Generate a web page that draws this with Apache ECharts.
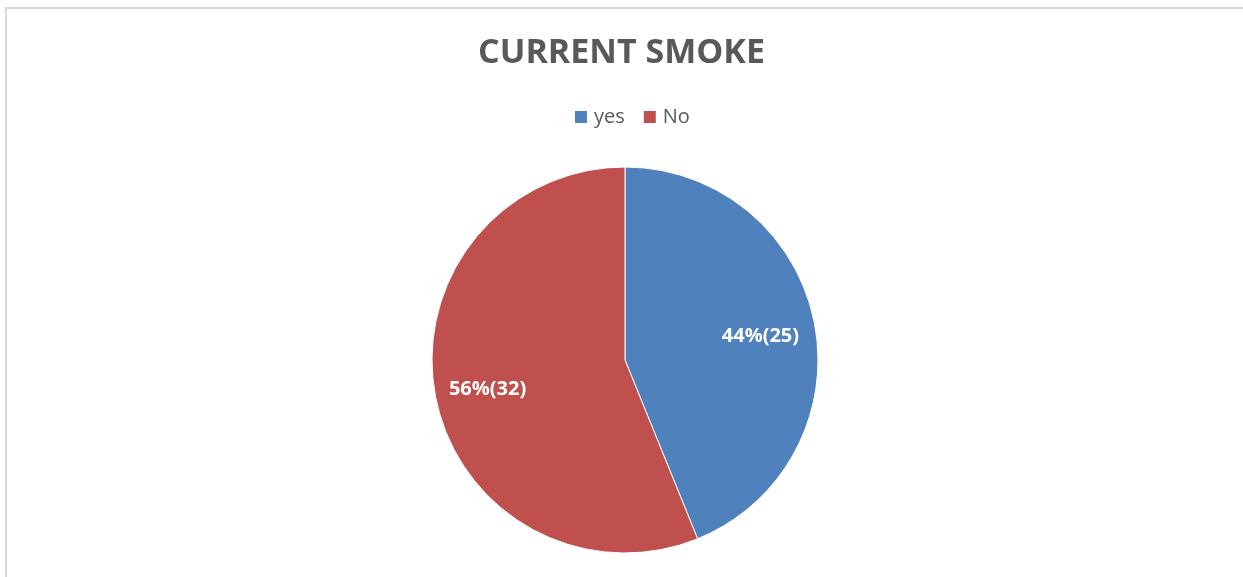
<!DOCTYPE html>
<html>
  <head>
    <meta charset="utf-8" />
    <title>CURRENT SMOKE</title>
    <script src="https://cdn.jsdelivr.net/npm/echarts@6/dist/echarts.min.js"></script>
    <style>
      html, body { margin: 0; padding: 0; background: #fff; overflow: hidden; }
      #frame {
        position: absolute; left: 5px; top: 7px; right: -10px; bottom: -10px;
        border-left: 2px solid #d9d9d9; border-top: 2px solid #d9d9d9;
      }
      #main { position: absolute; left: 0; top: 0; width: 1243px; height: 577px; }
    </style>
  </head>

  <body>
    <div id="frame"></div>
    <div id="main"></div>
    <script type="text/javascript">
      // data
      const categories = ["yes", "No"];
      const counts = [25, 32];
      const colors = ["#4F81BD", "#C0504D"];

      const total = counts.reduce((a, b) => a + b, 0);
      const pieData = categories.map((name, i) => ({
        name: name,
        value: counts[i],
        itemStyle: { color: colors[i] },
      }));

      const myChart = echarts.init(document.getElementById("main"));
      const option = {
        animation: false,
        title: {
          text: "CURRENT SMOKE",
          left: "center",
          top: 31,
          textStyle: {
            fontFamily: "Open Sans",
            fontWeight: "bold",
            fontSize: 34,
            color: "#595959",
          },
        },
        legend: {
          data: categories,
          top: 107,
          left: 573,
          padding: 0,
          itemWidth: 14,
          itemHeight: 14,
          itemGap: 17,
          icon: "rect",
          textStyle: {
            fontFamily: "Open Sans",
            fontSize: 20,
            color: "#595959",
            padding: [0, 0, 0, 1],
          },
        },
        series: [
          {
            name: "smoke",
            type: "pie",
            center: [625, 360],
            radius: 193,
            startAngle: 90,
            clockwise: true,
            label: { show: false },
            labelLine: { show: false },
            itemStyle: { borderColor: "#fff", borderWidth: 1 },
            emphasis: { disabled: true },
            data: pieData,
          },
          {
            // transparent ring only used to place the labels further out
            name: "labels",
            type: "pie",
            silent: true,
            center: [624, 363],
            radius: [79, 193],
            startAngle: 90,
            clockwise: true,
            itemStyle: { color: "transparent" },
            label: {
              show: true,
              position: "inside",
              formatter: p => Math.round((p.value / total) * 100) + "%(" + p.value + ")",
              fontFamily: "Open Sans",
              fontWeight: "bold",
              fontSize: 20,
              color: "#fff",
            },
            labelLine: { show: false },
            data: categories.map((name, i) => ({ name: name, value: counts[i] })),
          },
        ],
      };
      myChart.setOption(option);
    </script>
  </body>
</html>
